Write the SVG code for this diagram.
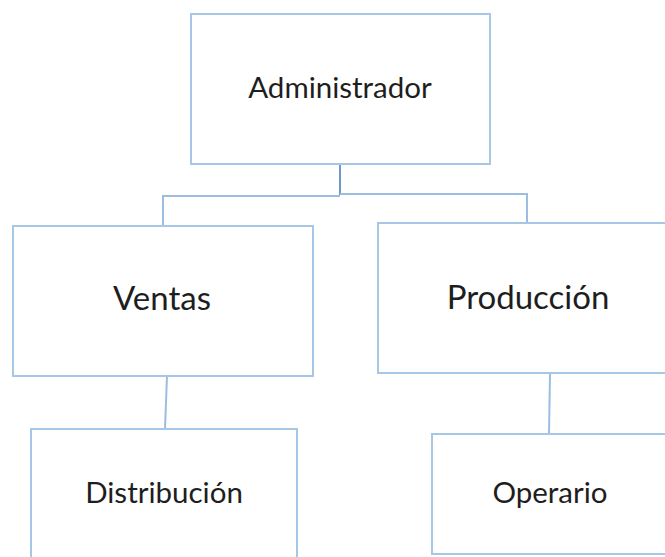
<svg xmlns="http://www.w3.org/2000/svg" width="665" height="557" viewBox="0 0 665 557">
<style>
.box{fill:#fff;stroke:#a7c7e7;stroke-width:2}
.lbl{font-family:Lato,"Open Sans",sans-serif;fill:#1e1e1e;text-anchor:middle}
.con{fill:none;stroke:#9bbde2;stroke-width:2}
.con2{fill:none;stroke:#6f9bcb;stroke-width:2}
</style>
<rect width="665" height="557" fill="#fff"/>
<g id="connectors">
<path class="con2" d="M340 164 V195"/>
<path class="con" d="M163 226 V196 H340 M340 194 H527 V224"/>
<path class="con" d="M167 376 L165 429"/>
<path class="con" d="M550 373 L549 434"/>
</g>
<g id="admin">
<rect class="box" x="191" y="14" width="299" height="150"/>
<text class="lbl" x="340" y="98" font-size="29.5">Administrador</text>
</g>
<g id="ventas">
<rect class="box" x="13" y="226" width="300" height="150"/>
<text class="lbl" x="162" y="310" font-size="33">Ventas</text>
</g>
<g id="produccion">
<rect class="box" x="378" y="223" width="300" height="150"/>
<text class="lbl" x="528" y="309" font-size="33">Producción</text>
</g>
<g id="distribucion">
<rect class="box" x="31" y="429" width="266" height="150"/>
<text class="lbl" x="164" y="503" font-size="29.5">Distribución</text>
</g>
<g id="operario">
<rect class="box" x="432" y="434" width="250" height="120"/>
<text class="lbl" x="550" y="503" font-size="29.5">Operario</text>
</g>
</svg>
